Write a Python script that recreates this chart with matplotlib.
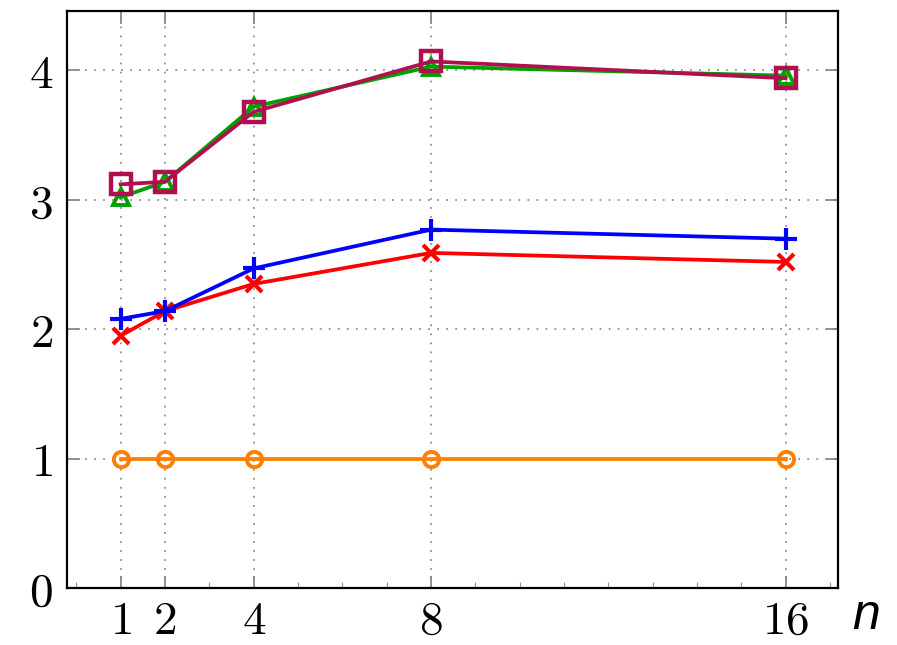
import matplotlib
matplotlib.use("Agg")
import matplotlib.pyplot as plt
from matplotlib.ticker import FixedLocator, MultipleLocator

plt.rcParams['mathtext.fontset'] = 'cm'

n_values = [1, 2, 4, 8, 16]
x_tick_labels = ["1", "2", "4", "8", "16"]
y_ticks = [0, 1, 2, 3, 4]

series_orange = [1.00, 1.00, 1.00, 1.00, 1.00]
series_red = [1.95, 2.14, 2.35, 2.59, 2.52]
series_blue = [2.08, 2.14, 2.47, 2.77, 2.70]
series_green = [3.02, 3.14, 3.72, 4.03, 3.96]
series_purple = [3.12, 3.14, 3.68, 4.07, 3.94]

fig = plt.figure(figsize=(8.97, 6.45), dpi=100)
ax = fig.add_axes([0.0747, 0.0884, 0.8595, 0.8946])

lw = 2.7
ax.plot(n_values, series_orange, color='#ff8000', lw=lw, marker='o', ms=11,
        mfc='none', mec='#ff8000', mew=2.8, zorder=3)
ax.plot(n_values, series_red, color='#ff0000', lw=lw, marker='x', ms=12,
        mew=3, zorder=3)
ax.plot(n_values, series_blue, color='#0000ff', lw=lw, marker='+', ms=16,
        mew=3, zorder=4)
ax.plot(n_values, series_green, color='#00a000', lw=lw, marker='^', ms=12,
        mfc='none', mec='#00a000', mew=2.8, zorder=3)
ax.plot(n_values, series_purple, color='#b0104f', lw=lw, marker='s', ms=14,
        mfc='none', mec='#b0104f', mew=3.2, zorder=4)

ax.set_xlim(-0.21, 17.18)
ax.set_ylim(0, 4.46)

ax.xaxis.set_major_locator(FixedLocator(n_values))
ax.set_xticklabels(["$%s$" % t for t in x_tick_labels])
ax.xaxis.set_minor_locator(MultipleLocator(1))
ax.set_yticks(y_ticks)
ax.set_yticklabels(["$%d$" % v for v in y_ticks])

ax.tick_params(axis='both', which='major', direction='in', length=9, width=1.2,
               color='#808080', labelsize=34, top=True, right=True, pad=10)
ax.tick_params(axis='x', which='major', pad=8)
ax.tick_params(axis='x', which='minor', direction='in', length=4, width=0.8,
               color='#909090', top=False, bottom=True)
ax.tick_params(axis='y', which='minor', left=False, right=False)

ax.grid(True, which='major', linestyle=(0, (1, 4)), color='#909090', lw=1.3)

for s in ax.spines.values():
    s.set_linewidth(1.6)
    s.set_color('black')

fig.text(0.965, 0.025, "n", fontsize=36, style='italic', family='Liberation Sans',
         ha='center', va='baseline')

fig.savefig("out.png", dpi=100)
